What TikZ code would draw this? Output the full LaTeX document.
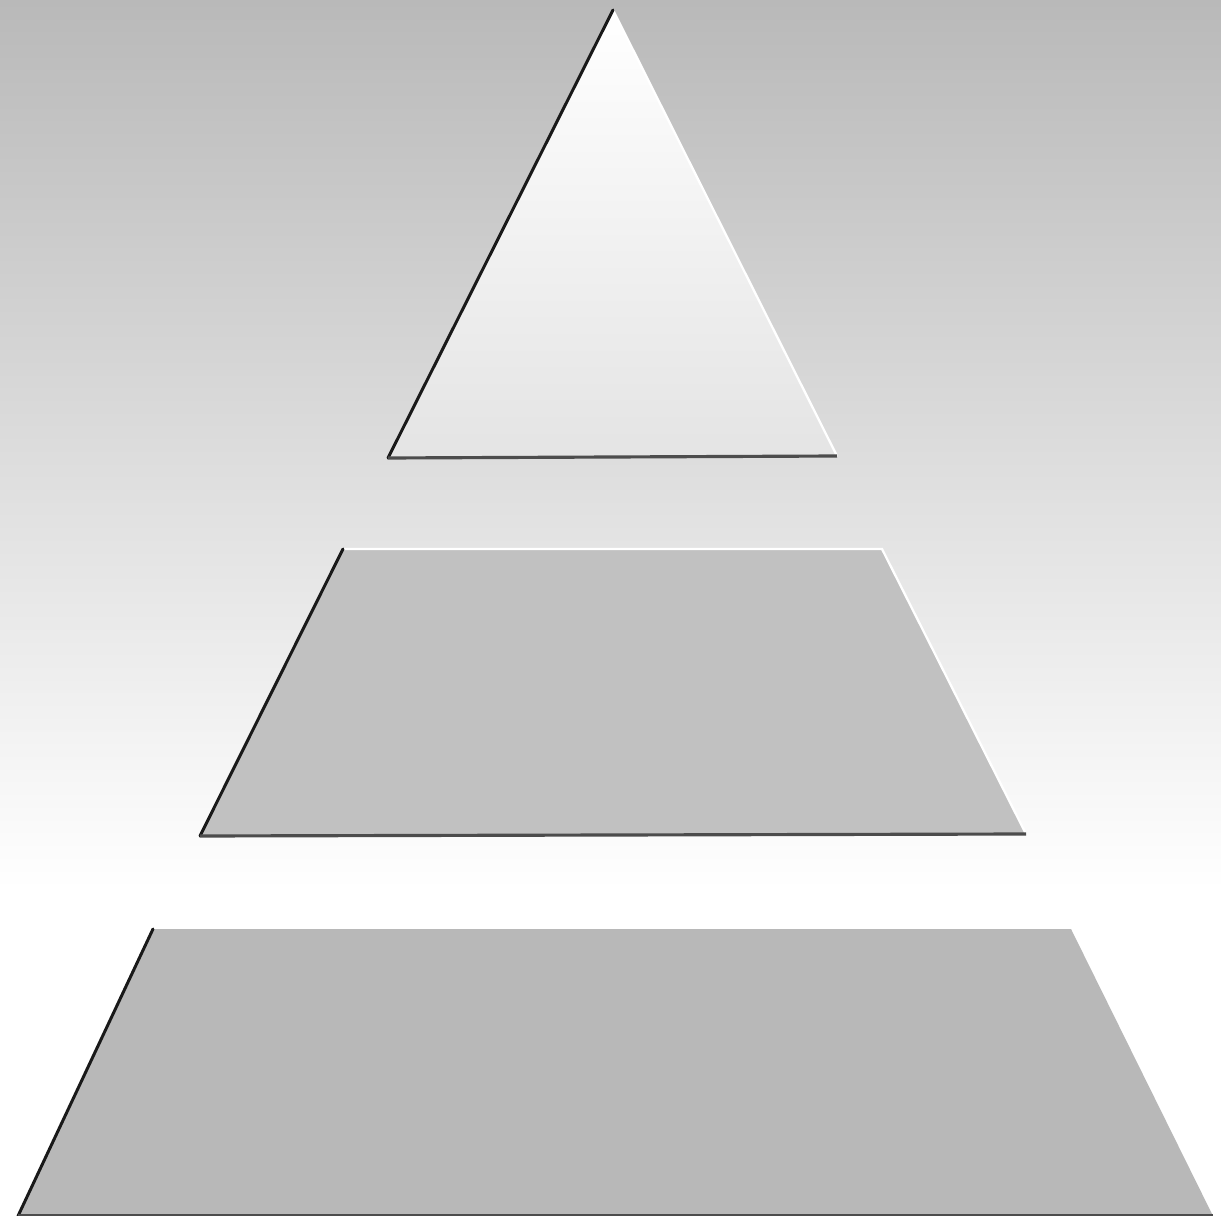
\documentclass[tikz,border=0pt]{standalone}
\begin{document}
\begin{tikzpicture}[x=0.02cm,y=-0.02cm,
  shadowedge/.style={line width=1.7pt, draw=black!90, line cap=round},
  baseedge/.style={line width=1.8pt, draw=black!70, line cap=butt},
  lightedge/.style={line width=1.3pt, draw=white, line cap=round}]
\definecolor{bgtop}{HTML}{B9B9B9}
\definecolor{bgmid}{HTML}{CDCDCD}
\definecolor{midfill}{HTML}{C1C1C1}
\definecolor{lowfill}{HTML}{B8B8B8}
\definecolor{tribot}{HTML}{E4E4E4}
\useasboundingbox (0,0) rectangle (1221,1216);
\fill[white] (0,0) rectangle (1221,1216);
\shade[top color=bgtop, middle color=bgmid, bottom color=white] (0,0) rectangle (1221,890);
% vertices
\coordinate (tA) at (613,10);
\coordinate (tL) at (388,458);
\coordinate (tR) at (837,456);
\coordinate (mTL) at (343,549);
\coordinate (mTR) at (882,549);
\coordinate (mBL) at (200,836);
\coordinate (mBR) at (1026,834);
\coordinate (bTL) at (153,929);
\coordinate (bTR) at (1071,929);
\coordinate (bBL) at (18,1216);
\coordinate (bBR) at (1213,1216);
% triangle
\shade[top color=white, bottom color=tribot] (tA) -- (tR) -- (tL) -- cycle;
\draw[lightedge] (tA) -- (tR);
\draw[shadowedge] (tA) -- (tL);
\draw[baseedge] (tL) -- (tR);
% middle trapezoid
\fill[midfill] (mTL) -- (mTR) -- (mBR) -- (mBL) -- cycle;
\draw[lightedge] (mTL) -- (mTR) -- (mBR);
\draw[shadowedge] (mTL) -- (mBL);
\draw[baseedge] (mBL) -- (mBR);
% bottom trapezoid
\fill[lowfill] (bTL) -- (bTR) -- (bBR) -- (bBL) -- cycle;
\draw[shadowedge] (bTL) -- (bBL);
\draw[baseedge] (bBL) -- (bBR);
\end{tikzpicture}
\end{document}
